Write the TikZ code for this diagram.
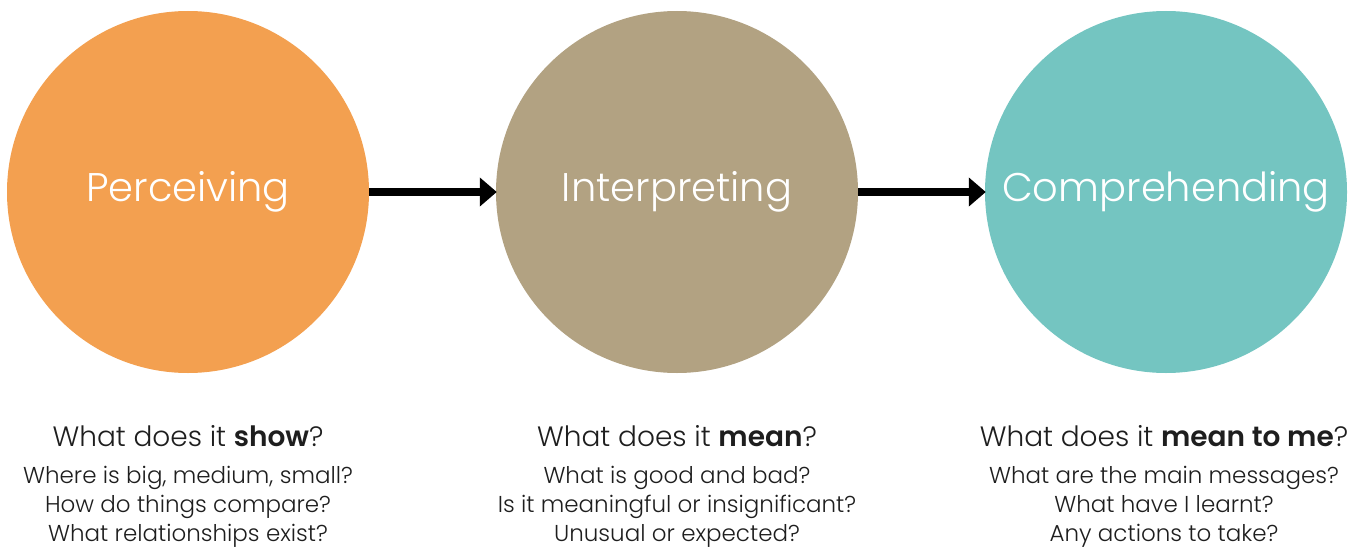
\documentclass[tikz,border=0pt]{standalone}
\usepackage{fontspec}
\setmainfont{Poppins}[UprightFont=*-Light, BoldFont=*-SemiBold]
\usetikzlibrary{arrows.meta}
\definecolor{corange}{HTML}{F3A050}
\definecolor{ctan}{HTML}{B2A282}
\definecolor{cteal}{HTML}{74C5C1}
\definecolor{ctext}{HTML}{1E1E1E}
\begin{document}
\begin{tikzpicture}[x=1pt,y=-1pt,
  stage/.style={circle, minimum size=362pt, inner sep=0pt, text=white, font=\fontsize{40}{44}\selectfont},
  head/.style={font=\fontsize{28}{30}\selectfont, text=ctext, inner sep=0pt, anchor=base},
  sub/.style={font=\fontsize{23}{30}\selectfont, text=ctext, inner sep=0pt, anchor=base},
  flow/.style={line width=8pt, -{Triangle[length=17pt,width=28pt]}, shorten >=-1pt}]
\useasboundingbox (0,0) rectangle (1359,551);
\node[stage, fill=corange] (p) at (188,192) {Perceiving};
\node[stage, fill=ctan] (i) at (677,192) {Interpreting};
\node[stage, fill=cteal] (c) at (1166,192) {Comprehending};
\draw[flow] (p.east) -- (i.west);
\draw[flow] (i.east) -- (c.west);
\node[head] (ph) at (188,446) {What does it \textbf{show}?};
\node[head] (ih) at (677,446) {What does it \textbf{mean}?};
\node[head] (ch) at (1164,446) {What does it \textbf{mean to me}?};
\node[sub] (p1) at (188,483) {Where is big, medium, small?};
\node[sub] (p2) at (188,512) {How do things compare?};
\node[sub] (p3) at (188,541) {What relationships exist?};
\node[sub] (i1) at (677,483) {What is good and bad?};
\node[sub] (i2) at (677,512) {Is it meaningful or insignificant?};
\node[sub] (i3) at (677,541) {Unusual or expected?};
\node[sub] (c1) at (1164,483) {What are the main messages?};
\node[sub] (c2) at (1164,512) {What have I learnt?};
\node[sub] (c3) at (1164,541) {Any actions to take?};
\end{tikzpicture}
\end{document}
